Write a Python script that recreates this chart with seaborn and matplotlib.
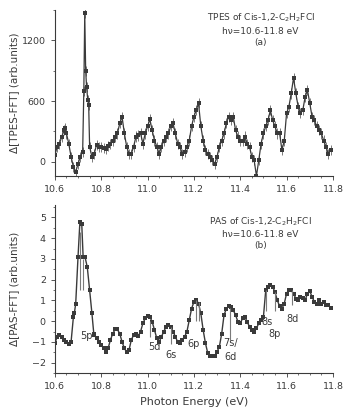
import matplotlib
matplotlib.use("Agg")
import matplotlib.pyplot as plt
import seaborn as sns
import pandas as pd
from matplotlib.ticker import MultipleLocator

# TPES (panel a)
tpes_energy = [10.60, 10.61, 10.62, 10.63, 10.64, 10.645, 10.65, 10.66, 10.67, 10.68, 10.69,
               10.70, 10.71, 10.72, 10.725, 10.729, 10.733, 10.737, 10.742, 10.746, 10.75,
               10.76, 10.77, 10.78, 10.79, 10.80, 10.81, 10.82, 10.83, 10.84, 10.85, 10.86,
               10.87, 10.88, 10.89, 10.90, 10.91, 10.92, 10.93, 10.94, 10.95, 10.96, 10.97,
               10.98, 10.99, 11.00, 11.01, 11.02, 11.03, 11.04, 11.05, 11.06, 11.07, 11.08,
               11.09, 11.10, 11.11, 11.12, 11.13, 11.14, 11.15, 11.16, 11.17, 11.18, 11.19,
               11.20, 11.21, 11.22, 11.23, 11.24, 11.25, 11.26, 11.27, 11.28, 11.29, 11.30,
               11.31, 11.32, 11.33, 11.34, 11.35, 11.36, 11.37, 11.38, 11.39, 11.40, 11.41,
               11.42, 11.43, 11.44, 11.45, 11.46, 11.47, 11.48, 11.49, 11.50, 11.51, 11.52,
               11.53, 11.54, 11.55, 11.56, 11.57, 11.58, 11.59, 11.60, 11.61, 11.62, 11.63,
               11.64, 11.65, 11.66, 11.67, 11.68, 11.69, 11.70, 11.71, 11.72, 11.73, 11.74,
               11.75, 11.76, 11.77, 11.78, 11.79]
tpes_signal = [66, 150, 180, 250, 310, 330, 280, 180, 50, -50, -100,
               -20, 50, 100, 700, 1467, 900, 740, 610, 560, 150,
               50, 80, 170, 150, 150, 140, 130, 160, 180, 210, 250,
               280, 380, 445, 280, 150, 80, 80, 150, 250, 260, 280,
               180, 280, 350, 420, 310, 210, 150, 80, 150, 210, 250,
               280, 350, 380, 280, 180, 150, 80, 100, 150, 210, 350,
               445, 510, 580, 350, 210, 115, 80, 50, 16, -20, 50,
               150, 210, 280, 380, 445, 410, 445, 310, 250, 210, 210,
               250, 180, 150, 50, 16, -140, 16, 180, 280, 350, 410,
               510, 410, 350, 280, 280, 115, 210, 480, 545, 675, 830,
               675, 545, 480, 510, 640, 710, 580, 445, 410, 350, 310,
               280, 210, 150, 80, 115]
tpes_err = 50

# PAS (panel b)
pas_energy = [10.60, 10.61, 10.62, 10.63, 10.64, 10.65, 10.66, 10.67, 10.68, 10.684,
              10.69, 10.70, 10.708, 10.716, 10.722, 10.73, 10.74, 10.75, 10.76, 10.768,
              10.77, 10.78, 10.79, 10.80, 10.81, 10.82, 10.83, 10.84, 10.85, 10.86,
              10.87, 10.88, 10.89, 10.90, 10.91, 10.92, 10.93, 10.94, 10.95, 10.96,
              10.97, 10.98, 10.99, 11.00, 11.01, 11.02, 11.03, 11.04, 11.05, 11.06,
              11.07, 11.08, 11.09, 11.10, 11.11, 11.12, 11.13, 11.14, 11.15, 11.16,
              11.17, 11.18, 11.19, 11.20, 11.21, 11.22, 11.23, 11.24, 11.25, 11.26,
              11.27, 11.28, 11.29, 11.30, 11.31, 11.32, 11.33, 11.34, 11.35, 11.36,
              11.37, 11.38, 11.39, 11.40, 11.41, 11.42, 11.43, 11.44, 11.45, 11.46,
              11.47, 11.48, 11.49, 11.50, 11.51, 11.52, 11.53, 11.54, 11.55, 11.56,
              11.57, 11.58, 11.59, 11.60, 11.61, 11.62, 11.63, 11.64, 11.65, 11.66,
              11.67, 11.68, 11.69, 11.70, 11.71, 11.72, 11.73, 11.74, 11.75, 11.76,
              11.77, 11.78, 11.79]
pas_signal = [-1.07, -0.75, -0.67, -0.75, -0.9, -1.0, -1.1, -1.0, 0.2, 0.37,
              0.85, 3.1, 4.76, 4.7, 3.1, 3.1, 2.6, 1.5, 0.37, -0.6,
              -0.67, -0.83, -1.0, -1.15, -1.3, -1.47, -1.3, -0.9, -0.6, -0.4,
              -0.4, -0.6, -1.0, -1.3, -1.5, -1.4, -0.9, -0.67, -0.6, -0.72,
              -0.5, -0.1, 0.13, 0.24, 0.2, -0.03, -0.43, -0.83, -1.0, -0.75,
              -0.5, -0.27, -0.2, -0.27, -0.5, -0.75, -1.0, -1.07, -0.9, -0.75,
              -0.5, 0.05, 0.6, 0.93, 1.04, 0.85, 0.37, -0.43, -1.07, -1.55,
              -1.7, -1.7, -1.68, -1.47, -1.23, -0.6, 0.29, 0.6, 0.72, 0.69,
              0.53, 0.29, -0.03, -0.1, 0.13, 0.2, -0.03, -0.27, -0.43, -0.5,
              -0.35, -0.1, 0.05, 0.2, 1.48, 1.65, 1.72, 1.65, 1.4, 1.0,
              0.72, 0.6, 0.85, 1.33, 1.52, 1.48, 1.33, 1.09, 1.0, 1.17,
              1.13, 1.0, 1.33, 1.45, 1.17, 0.93, 0.85, 1.0, 0.85, 0.93,
              0.77, 0.77, 0.65]

# assignment markers: x, line top, line bottom
assign_x = [10.71, 10.72, 11.01, 11.10, 11.21, 11.22, 11.357, 11.51, 11.55, 11.625]
assign_top = [4.3, 3.0, 0.0, -0.3, 1.0, 0.9, 0.65, 1.5, 1.4, 1.5]
assign_bottom = [1.5, 1.5, -0.75, -1.1, 0.0, 0.0, -0.9, 0.5, 0.5, 0.8]
label_text = ["5p", "5d", "6s", "6p", "7s/", "6d", "8s", "8p", "8d"]
label_x = [10.735, 11.03, 11.10, 11.20, 11.36, 11.36, 11.515, 11.55, 11.625]
label_y = [-0.7, -1.23, -1.63, -1.1, -1.05, -1.75, -0.05, -0.6, 0.1]

sns.set_style("ticks")
plt.rcParams["font.family"] = ["DejaVu Sans"]
dark = "#3a3a3a"
gray = "#7a7a7a"

fig = plt.figure(figsize=(3.45, 4.17), dpi=100)
ax1 = fig.add_axes([0.159, 0.578, 0.806, 0.398])
ax2 = fig.add_axes([0.159, 0.1055, 0.806, 0.403])

df_a = pd.DataFrame({"E": tpes_energy, "S": tpes_signal})
ax1.errorbar(df_a["E"], df_a["S"], yerr=tpes_err, fmt="none", ecolor=gray,
             elinewidth=0.7, capsize=0)
sns.lineplot(data=df_a, x="E", y="S", ax=ax1, color=dark, linewidth=0.9,
             marker="s", markersize=2.5, markeredgewidth=0, markerfacecolor=dark)
ax1.set_xlim(10.6, 11.8)
ax1.set_ylim(-140, 1500)
ax1.yaxis.set_major_locator(MultipleLocator(600))
ax1.yaxis.set_minor_locator(MultipleLocator(300))
ax1.set_ylabel("Δ[TPES-FFT] (arb.units)", fontsize=7.5, color=dark)
ax1.set_xlabel("")
ax1.text(0.74, 0.99, "TPES of Cis-1,2-C$_2$H$_2$FCl\nhν=10.6-11.8 eV\n(a)",
         transform=ax1.transAxes, ha="center", va="top", fontsize=6.5,
         color=dark, linespacing=1.35)

df_b = pd.DataFrame({"E": pas_energy, "S": pas_signal})
sns.lineplot(data=df_b, x="E", y="S", ax=ax2, color=dark, linewidth=1.0,
             marker="s", markersize=2.5, markeredgewidth=0, markerfacecolor=dark)
ax2.vlines(assign_x, assign_bottom, assign_top, color=gray, linewidth=0.8)
for t, x, y in zip(label_text, label_x, label_y):
    ax2.text(x, y, t, ha="center", va="center", fontsize=7, color=dark)
ax2.set_xlim(10.6, 11.8)
ax2.set_ylim(-2.5, 5.6)
ax2.yaxis.set_major_locator(MultipleLocator(1))
ax2.yaxis.set_minor_locator(MultipleLocator(0.5))
ax2.set_ylabel("Δ[PAS-FFT] (arb.units)", fontsize=7.5, color=dark)
ax2.set_xlabel("Photon Energy (eV)", fontsize=8, color=dark)
ax2.text(0.74, 0.94, "PAS of Cis-1,2-C$_2$H$_2$FCl\nhν=10.6-11.8 eV\n(b)",
         transform=ax2.transAxes, ha="center", va="top", fontsize=6.5,
         color=dark, linespacing=1.35)

for ax in (ax1, ax2):
    sns.despine(ax=ax)
    ax.xaxis.set_major_locator(MultipleLocator(0.2))
    ax.xaxis.set_minor_locator(MultipleLocator(0.05))
    ax.xaxis.set_major_formatter(plt.FormatStrFormatter("%.1f"))
    ax.tick_params(labelsize=6.8, colors=dark, length=3, width=0.6)
    ax.tick_params(which="minor", length=1.5, width=0.5, colors=dark)
    for s in ax.spines.values():
        s.set_color(dark)
        s.set_linewidth(0.8)
    ax.yaxis.set_label_coords(-0.13, 0.5)

fig.savefig("out.png", dpi=100)
